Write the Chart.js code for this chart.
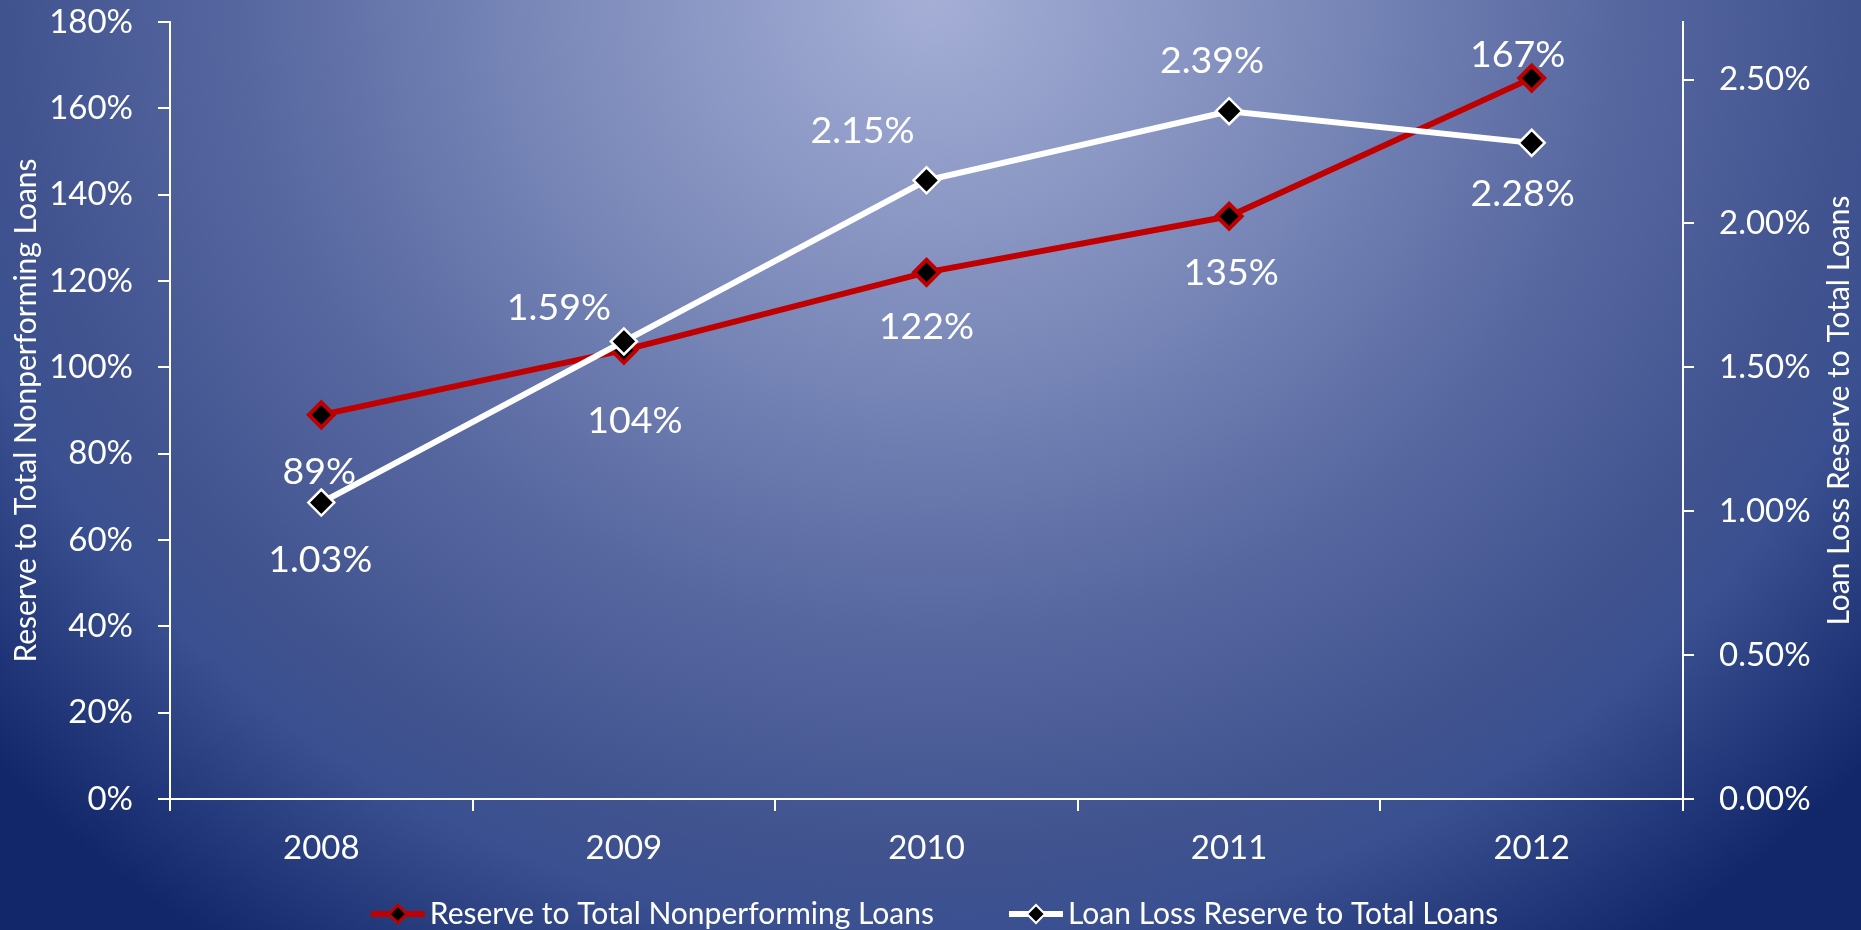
<!DOCTYPE html>
<html>
<head>
<meta charset="utf-8">
<title>Loan Loss Reserves</title>
<script src="https://cdn.jsdelivr.net/npm/chart.js@4.4.0/dist/chart.umd.min.js"></script>
<style>
    html, body { margin: 0; padding: 0; }
    body {
        width: 1861px;
        height: 930px;
        overflow: hidden;
        background: radial-gradient(ellipse 1250px 1150px at 50% 0%, #a5afd6 0%, #7c8aba 30%, #5667a0 55%, #41538f 74%, #3a5090 81%, #12276a 100%);
    }
    #chartBox { position: relative; width: 1861px; height: 930px; }
</style>
</head>
<body>
<div id="chartBox"><canvas id="lineChart"></canvas></div>
<script>
var years = ['2008', '2009', '2010', '2011', '2012'];
var reserveToNpl = [89, 104, 122, 135, 167];          // left axis, %
var reserveToLoans = [1.03, 1.59, 2.15, 2.39, 2.28];  // right axis, %
var leftTicks = [0, 20, 40, 60, 80, 100, 120, 140, 160, 180];
var rightTicks = [0, 0.5, 1, 1.5, 2, 2.5];

// where each value label sits relative to its marker [dx, dy]
var nplLabelOffsets = [[-2, 57], [11, 71], [0, 55], [2, 57], [-14, -23]];
var loansLabelOffsets = [[-1, 57], [-65, -34], [-64, -49], [-17, -50], [-9, 51]];

var fontFamily = 'Lato, "Open Sans", sans-serif';

// value labels next to the markers + right axis title + line/marker legend
const extrasPlugin = {
    id: 'extras',
    afterDatasetsDraw(chart, args, opts) {
        const c = chart.ctx;
        c.save();
        c.fillStyle = '#ffffff';
        c.font = `37.5px ${fontFamily}`;
        c.textAlign = 'center';
        c.textBaseline = 'middle';
        chart.data.datasets.forEach((ds, i) => {
            const meta = chart.getDatasetMeta(i);
            meta.data.forEach((pt, j) => {
                const off = opts.offsets[i][j];
                c.fillText(opts.formats[i](ds.data[j]), pt.x + off[0], pt.y + off[1]);
            });
        });
        c.restore();
    },
    afterDraw(chart, args, opts) {
        const c = chart.ctx;
        const area = chart.chartArea;
        c.save();
        c.fillStyle = '#ffffff';

        // right axis title, reading bottom to top
        c.font = `30px ${fontFamily}`;
        c.textAlign = 'center';
        c.textBaseline = 'middle';
        c.translate(chart.width - 22, (area.top + area.bottom) / 2);
        c.rotate(-Math.PI / 2);
        c.fillText(opts.rightTitle, 0, 0);
        c.restore();

        // legend
        c.save();
        c.font = `30px ${fontFamily}`;
        c.textBaseline = 'middle';
        c.textAlign = 'left';
        const markW = 54, gap = 5, itemGap = 75;
        const items = chart.data.datasets.map(ds => ({ ds: ds, w: c.measureText(ds.label).width }));
        let total = 0;
        items.forEach((it, k) => { total += markW + gap + it.w + (k ? itemGap : 0); });
        let x = chart.width / 2 - total / 2 + 4;
        const y = opts.legendY;
        items.forEach(it => {
            c.strokeStyle = it.ds.borderColor;
            c.lineWidth = 6;
            c.beginPath();
            c.moveTo(x, y);
            c.lineTo(x + markW, y);
            c.stroke();
            const cx = x + markW / 2, r = 9;
            c.beginPath();
            c.moveTo(cx - r, y);
            c.lineTo(cx, y - r);
            c.lineTo(cx + r, y);
            c.lineTo(cx, y + r);
            c.closePath();
            c.fillStyle = '#000000';
            c.fill();
            c.lineWidth = it.ds.pointBorderWidth > 3 ? 3 : 2;
            c.strokeStyle = it.ds.pointBorderColor;
            c.stroke();
            c.fillStyle = '#ffffff';
            c.fillText(it.ds.label, x + markW + gap, y);
            x += markW + gap + it.w + itemGap;
        });
        c.restore();
    }
};

// fixed axis widths; the top label overhang is covered by layout padding
function fixWidth(w) {
    return (scale) => {
        scale.width = w;
        scale.paddingTop = 0;
    };
}

const ctx = document.getElementById('lineChart');
var lineChart = new Chart(ctx, {
    type: 'line',
    data: {
        labels: years,
        datasets: [{
            label: 'Reserve to Total Nonperforming Loans',
            data: reserveToNpl,
            yAxisID: 'y',
            order: 1,
            borderColor: '#c00000',
            borderWidth: 6,
            pointStyle: 'rectRot',
            pointRadius: 12.5,
            pointBorderWidth: 4,
            pointBackgroundColor: '#000000',
            pointBorderColor: '#c00000',
            tension: 0
        }, {
            label: 'Loan Loss Reserve to Total Loans',
            data: reserveToLoans,
            yAxisID: 'y1',
            order: 0,
            borderColor: '#ffffff',
            borderWidth: 6,
            pointStyle: 'rectRot',
            pointRadius: 13,
            pointBorderWidth: 2.5,
            pointBackgroundColor: '#000000',
            pointBorderColor: '#ffffff',
            tension: 0
        }]
    },
    options: {
        responsive: true,
        maintainAspectRatio: false,
        animation: false,
        layout: { padding: { top: 22, bottom: 70, left: 0, right: 0 } },
        plugins: {
            legend: { display: false },
            tooltip: { enabled: false },
            extras: {
                offsets: [nplLabelOffsets, loansLabelOffsets],
                formats: [v => v + '%', v => v.toFixed(2) + '%'],
                rightTitle: 'Loan Loss Reserve to Total Loans',
                legendY: 914
            }
        },
        scales: {
            x: {
                offset: true,
                grid: { offset: true, drawOnChartArea: false, tickLength: 12, color: '#ffffff', lineWidth: 2 },
                border: { color: '#ffffff', width: 2 },
                ticks: { color: '#ffffff', font: { family: fontFamily, size: 33 }, padding: 18, maxRotation: 0 },
                afterFit: (scale) => { scale.height = 61; }
            },
            y: {
                position: 'left',
                min: 0,
                max: 180,
                afterBuildTicks: (scale) => { scale.ticks = leftTicks.map(v => ({ value: v })); },
                grid: { drawOnChartArea: false, tickLength: 12, color: '#ffffff', lineWidth: 2 },
                border: { color: '#ffffff', width: 2 },
                ticks: { color: '#ffffff', font: { family: fontFamily, size: 33 }, padding: 25, callback: v => v + '%' },
                title: {
                    display: true,
                    text: 'Reserve to Total Nonperforming Loans',
                    color: '#ffffff',
                    font: { family: fontFamily, size: 30 },
                    padding: { top: 8, bottom: 0 }
                },
                afterFit: fixWidth(170)
            },
            y1: {
                position: 'right',
                min: 0,
                max: 2.7,
                afterBuildTicks: (scale) => { scale.ticks = rightTicks.map(v => ({ value: v })); },
                grid: { drawOnChartArea: false, tickLength: 11, color: '#ffffff', lineWidth: 2 },
                border: { color: '#ffffff', width: 2 },
                ticks: { color: '#ffffff', font: { family: fontFamily, size: 33 }, padding: 25, callback: v => v.toFixed(2) + '%' },
                afterFit: fixWidth(178)
            }
        }
    },
    plugins: [extrasPlugin]
});
</script>
</body>
</html>
